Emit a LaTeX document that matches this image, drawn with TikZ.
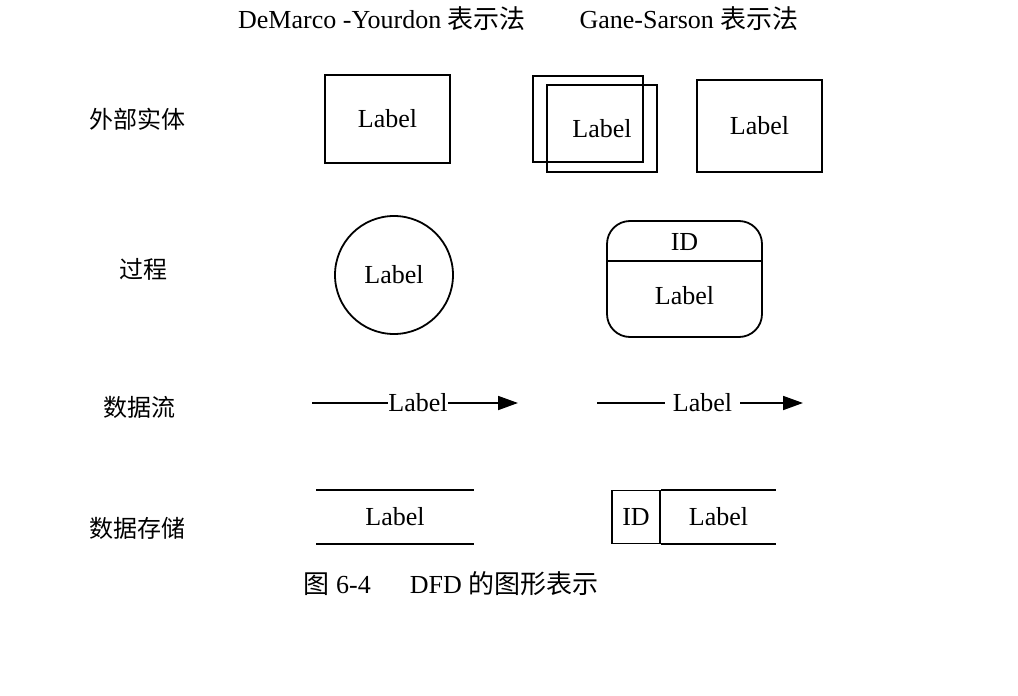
\documentclass[tikz,border=0pt]{standalone}
\usepackage{fontspec}
\setmainfont{Liberation Serif}
\newfontfamily\cjk{Noto Sans CJK SC}
\usetikzlibrary{arrows.meta, positioning}

\tikzset{
  every node/.style={font=\fontsize{13}{15}\selectfont},
  shp/.style={draw, line width=0.9pt},
  rowlabel/.style={font=\cjk\fontsize{12}{14}\selectfont},
  flowline/.style={line width=0.9pt},
  flowtip/.style={line width=0.9pt, -{Triangle[length=10pt, width=7pt]}}
}

\begin{document}
\begin{tikzpicture}[x=0.5pt, y=-0.5pt]
  \useasboundingbox (0,0) rectangle (1018,696);

  % Headers
  \node (hdm) at (382,19) {DeMarco -Yourdon {\cjk 表示法}};
  \node (hgs) at (689,19) {Gane-Sarson {\cjk 表示法}};

  % Row labels
  \node[rowlabel] (rent) at (137,119) {外部实体};
  \node[rowlabel] (rproc) at (143,269) {过程};
  \node[rowlabel] (rflow) at (139,407) {数据流};
  \node[rowlabel] (rstore) at (137,528) {数据存储};

  % External entity
  \node[shp, minimum width=62.5pt, minimum height=44pt] (dment) at (387.5,119) {Label};
  \node[shp, minimum width=55pt, minimum height=43pt] (gsentback) at (588,119) {};
  \node[shp, minimum width=55pt, minimum height=43.5pt] (gsentfront) at (602,128.5) {Label};
  \node[shp, minimum width=62.5pt, minimum height=46pt] (gsent) at (759.5,126) {Label};

  % Process
  \node[shp, circle, minimum size=59pt] (dmproc) at (394,275) {Label};
  \node[shp, rounded corners=11.5pt, minimum width=77.5pt, minimum height=58pt] (gsproc) at (684.5,279) {};
  \draw[line width=0.9pt] (gsproc.west |- 0,261) -- (gsproc.east |- 0,261);
  \node (gsprocid) at (684.5,242) {ID};
  \node (gsproclabel) at (684.5,296) {Label};

  % Data flow
  \coordinate (dmflowstart) at (312,403);
  \coordinate (dmflowend) at (518,403);
  \node[inner sep=0pt] (dmflow) at (418,403) {Label};
  \draw[flowline] (dmflowstart) -- (dmflow);
  \draw[flowtip] (dmflow) -- (dmflowend);

  \coordinate (gsflowstart) at (597,403);
  \coordinate (gsflowend) at (803,403);
  \node[inner xsep=4pt, inner ysep=0pt] (gsflow) at (702.5,403) {Label};
  \draw[flowline] (gsflowstart) -- (gsflow);
  \draw[flowtip] (gsflow) -- (gsflowend);

  % Data store
  \node[minimum width=78.5pt, minimum height=26.5pt] (dmstore) at (395,517) {Label};
  \draw[line width=0.9pt] (dmstore.north west) -- (dmstore.north east);
  \draw[line width=0.9pt] (dmstore.south west) -- (dmstore.south east);

  \node[shp, minimum width=24.2pt, minimum height=26.5pt, inner sep=0pt] (gsstoreid) at (636,517) {ID};
  \node[minimum width=57pt, minimum height=26.5pt, inner sep=0pt, right=0pt of gsstoreid] (gsstore) {Label};
  \draw[line width=0.9pt] (gsstore.north west) -- (gsstore.north east);
  \draw[line width=0.9pt] (gsstore.south west) -- (gsstore.south east);

  % Caption
  \node (caption) at (451,584) {{\cjk 图} 6-4\quad\enspace DFD {\cjk 的图形表示}};
\end{tikzpicture}
\end{document}
